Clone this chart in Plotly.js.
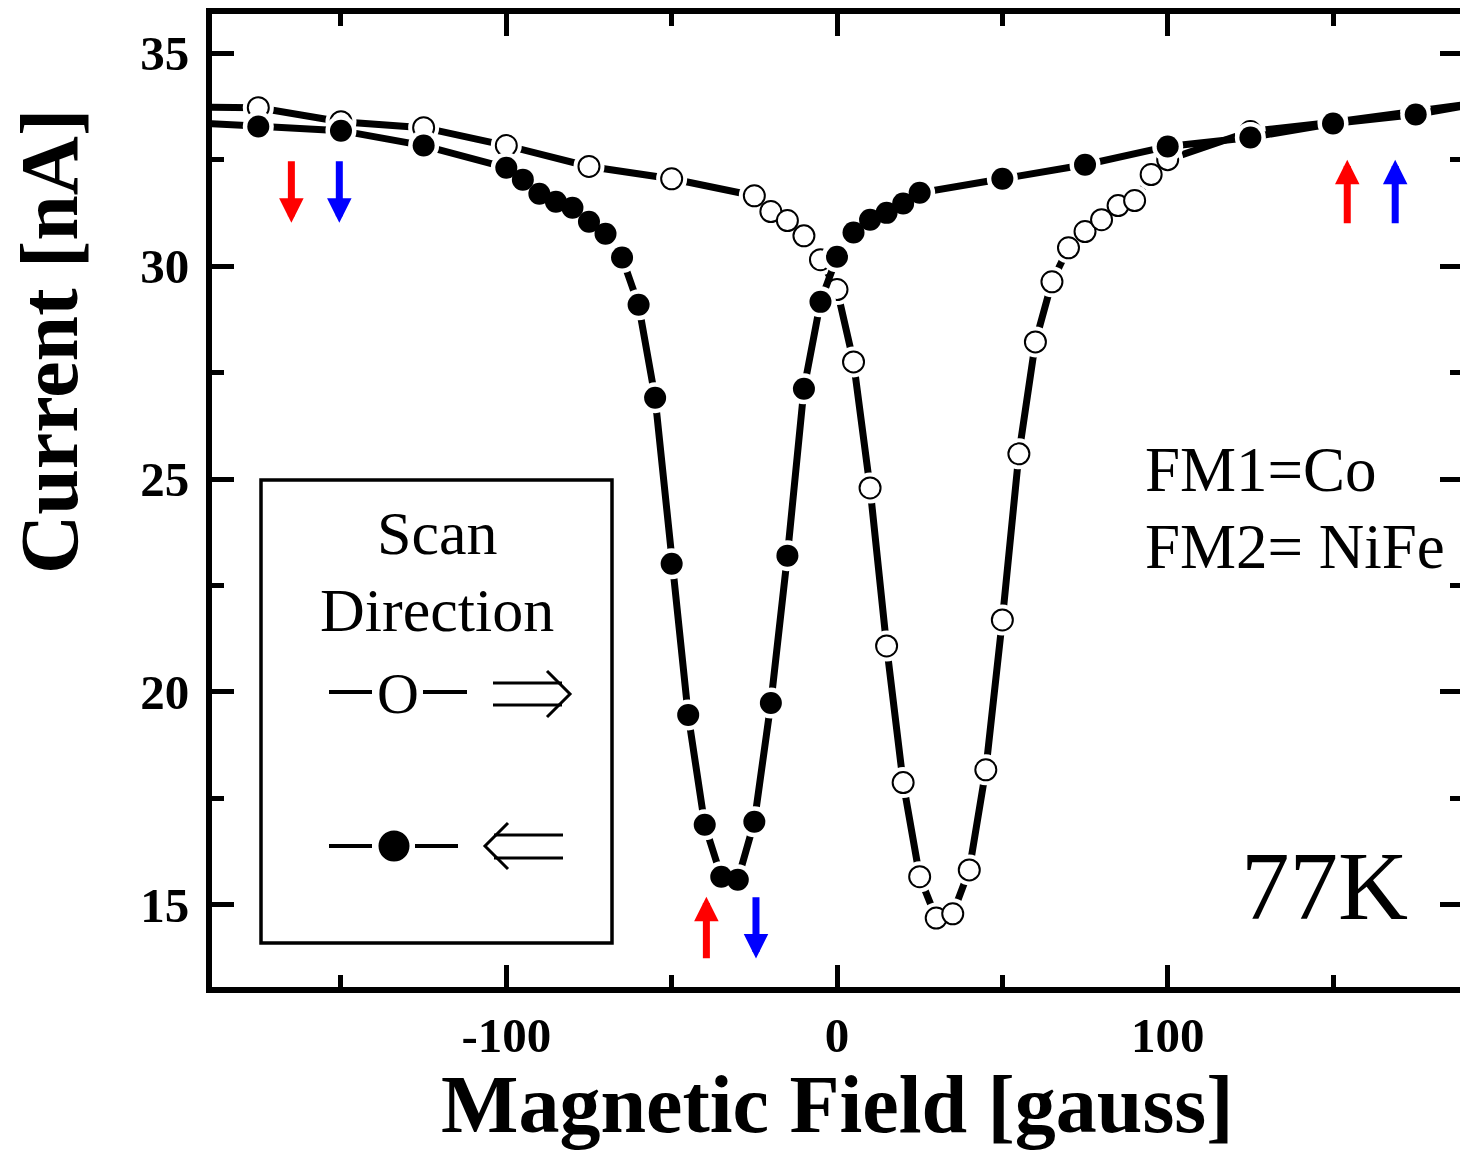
<!DOCTYPE html>
<html><head><meta charset="utf-8">
<script src="https://cdn.plot.ly/plotly-3.0.1.min.js"></script>
<style>html,body{margin:0;padding:0;overflow:hidden;background:#fff}#chart{width:1470px;height:1152px}</style>
</head><body><div id="chart"></div>
<script>
// ---- data ----
const fieldOpen = [-200,-175,-150,-125,-100,-75,-50,-25,-20,-15,-10,-5,0,5,10,15,20,25,30,35,40,45,50,55,60,65,70,75,80,85,90,95,100,125,150,175,200];
const currentOpen = [33.74,33.72,33.39,33.25,32.83,32.34,32.05,31.65,31.28,31.07,30.71,30.15,29.45,27.75,24.79,21.08,17.87,15.66,14.69,14.79,15.82,18.17,21.69,25.59,28.22,29.63,30.43,30.81,31.09,31.42,31.54,32.15,32.50,33.16,33.38,33.63,33.90];
const fieldFilled = [-200,-175,-150,-125,-100,-95,-90,-85,-80,-75,-70,-65,-60,-55,-50,-45,-40,-35,-30,-25,-20,-15,-10,-5,0,5,10,15,20,25,50,75,100,125,150,175,200];
const currentFilled = [33.39,33.28,33.18,32.83,32.31,32.03,31.70,31.51,31.37,31.04,30.76,30.20,29.09,26.91,23.01,19.46,16.88,15.66,15.59,16.95,19.74,23.20,27.12,29.16,30.22,30.79,31.09,31.25,31.47,31.72,32.05,32.38,32.81,33.02,33.35,33.56,33.90];
// switching-field arrows
const arrowField = [-165, -150.5, -39.5, -24.5, 154.3, 168.8];
const arrowTail  = [32.50, 32.50, 13.71, 15.21, 30.97, 30.97];
const arrowTip   = [31.02, 31.02, 15.19, 13.74, 32.50, 32.50];
const arrowColor = ['#ff0000','#0000ff','#ff0000','#0000ff','#ff0000','#0000ff'];
// ticks
const xTickVals = [-100, 0, 100];
const xTickText = ['-100', '0', '100'];
const yTickVals = [15, 20, 25, 30, 35];
const yTickText = ['15', '20', '25', '30', '35'];
const xTitle = 'Magnetic Field [gauss]';
const yTitle = 'Current [nA]';
const legendTitle = ['Scan','Direction'];
const sampleText = ['FM1=Co','FM2= NiFe'];
const tempText = '77K';

// ---- layout geometry ----
const W = 1470, H = 1152, L = 212, R = 8, T = 14, B = 165;
const PW = W - L - R, PH = H - T - B;
const px = v => (v - L) / PW;       // pixel x -> paper
const py = v => (H - B - v) / PH;   // pixel y -> paper
const serif = 'Liberation Serif, Times New Roman, serif';

function lineTrace(x, y){
  return {x, y, type:'scatter', mode:'lines', hoverinfo:'skip', showlegend:false,
    line:{color:'#000', width:7}};
}
function haloTrace(x, y){
  return {x: x, y: y, type:'scatter', mode:'markers', hoverinfo:'skip', showlegend:false,
    marker:{color:'#fff', size:31, line:{width:0}}};
}
const traces = [
  lineTrace(fieldOpen, currentOpen),
  haloTrace(fieldOpen, currentOpen),
  {x:fieldOpen, y:currentOpen, type:'scatter', mode:'markers', showlegend:false,
   marker:{symbol:'circle', size:21, color:'#fff', line:{color:'#000', width:2}}},
  lineTrace(fieldFilled, currentFilled),
  haloTrace(fieldFilled, currentFilled),
  {x:fieldFilled, y:currentFilled, type:'scatter', mode:'markers', showlegend:false,
   marker:{symbol:'circle', size:22, color:'#000', line:{width:0}}}
];

const annotations = [];
for (let i = 0; i < arrowField.length; i++){
  annotations.push({x:arrowField[i], y:arrowTip[i], ax:arrowField[i], ay:arrowTail[i],
    xref:'x', yref:'y', axref:'x', ayref:'y', text:'', showarrow:true,
    arrowhead:2, arrowsize:0.7, arrowwidth:7, arrowcolor:arrowColor[i]});
}
function txt(t, x, y, size, opts){
  return Object.assign({text:t, x:px(x), y:py(y), xref:'paper', yref:'paper', showarrow:false,
    xanchor:'center', yanchor:'middle', font:{family:serif, size:size, color:'#000'}}, opts||{});
}
annotations.push(txt(xTitle, 837, 1104, 82, {font:{family:serif, size:82, color:'#000', weight:700}}));
annotations.push(txt(yTitle, 50, 342, 82, {textangle:-90, font:{family:serif, size:82, color:'#000', weight:700}}));
annotations.push(txt(legendTitle[0], 437, 533, 62));
annotations.push(txt(legendTitle[1], 437, 610, 62));
annotations.push(txt('O', 398, 694, 58));
annotations.push(txt(sampleText[0], 1143, 470, 63, {xanchor:'left'}));
annotations.push(txt(sampleText[1], 1143, 547, 63, {xanchor:'left'}));
annotations.push(txt(tempText, 1324, 886, 97));

function seg(x0,y0,x1,y1,w){
  return {type:'line', xref:'paper', yref:'paper', x0:px(x0), y0:py(y0), x1:px(x1), y1:py(y1),
    line:{color:'#000', width:w}};
}
function poly(pts, w){
  const d = pts.map((p,i)=> (i? 'L ':'M ') + px(p[0]) + ' ' + py(p[1])).join(' ');
  return {type:'path', xref:'paper', yref:'paper', path:d, line:{color:'#000', width:w}};
}
const shapes = [
  {type:'rect', xref:'paper', yref:'paper', x0:px(261), x1:px(612), y0:py(943), y1:py(480),
   line:{color:'#000', width:3.5}, fillcolor:'rgba(0,0,0,0)'},
  seg(329,692,372,692,4), seg(423,692,467,692,4),
  seg(493,683,562,683,3), seg(493,705,562,705,3), poly([[547,671],[570,694],[547,717]],3),
  seg(329,846,372,846,4), seg(415,846,458,846,4),
  {type:'circle', xref:'paper', yref:'paper', x0:px(378.5), x1:px(409.5), y0:py(861.5), y1:py(830.5),
   fillcolor:'#000', line:{color:'#000', width:0}},
  seg(494,835,563,835,3), seg(494,858,563,858,3), poly([[508,823],[485,846],[508,869]],3)
];

const axisCommon = {
  showgrid:false, zeroline:false, showline:true, linecolor:'#000', linewidth:6, mirror:'ticks',
  ticks:'inside', ticklen:22, tickwidth:5, tickcolor:'#000', tickmode:'array',
  tickfont:{family:serif, size:49, color:'#000', weight:700}
};
const layout = {
  width:W, height:H, margin:{l:L, r:R, t:T, b:B, pad:0},
  paper_bgcolor:'#fff', plot_bgcolor:'#fff', showlegend:false,
  xaxis:Object.assign({}, axisCommon, {range:[-189,189], tickvals:xTickVals, ticktext:xTickText, ticklabelstandoff:0,
    minor:{dtick:50, tick0:0, ticks:'inside', ticklen:12, tickwidth:5, tickcolor:'#000', showgrid:false}}),
  yaxis:Object.assign({}, axisCommon, {range:[13.07,35.92], tickvals:yTickVals, ticktext:yTickText, ticklabelstandoff:7,
    minor:{dtick:2.5, tick0:0, ticks:'inside', ticklen:12, tickwidth:5, tickcolor:'#000', showgrid:false}}),
  annotations, shapes
};
Plotly.newPlot('chart', traces, layout, {staticPlot:true, displayModeBar:false});
</script></body></html>
